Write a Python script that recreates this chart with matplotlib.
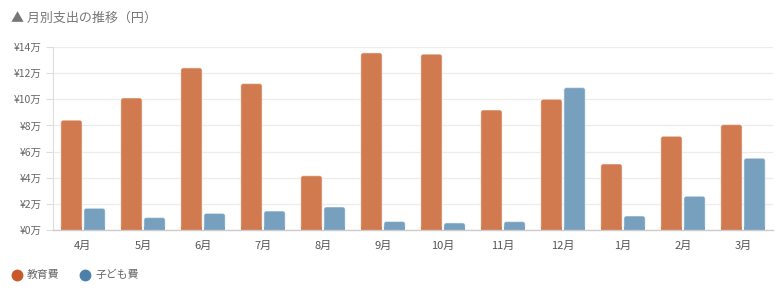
import matplotlib
matplotlib.use("Agg")
import matplotlib.pyplot as plt
import numpy as np
from matplotlib.patches import FancyBboxPatch
from matplotlib.lines import Line2D

plt.rcParams['font.family'] = ['Noto Sans CJK JP', 'DejaVu Sans']

months = ["4月", "5月", "6月", "7月", "8月", "9月", "10月", "11月", "12月", "1月", "2月", "3月"]
education = [84000, 101000, 124000, 112000, 41500, 135500, 134500, 91800, 100000, 50500, 71700, 80600]
children = [16600, 9500, 12700, 14500, 17600, 6500, 5400, 6400, 108900, 10700, 25800, 54900]
series_names = ["教育費", "子ども費"]
yticks = [0, 20000, 40000, 60000, 80000, 100000, 120000, 140000]
title = "▲ 月別支出の推移（円）"

edu_color = "#C8592A"
child_color = "#4A80A9"
edu_bar = "#D17A4F"
child_bar = "#77A0BE"

W, H = 779, 292
fig = plt.figure(figsize=(W / 100, H / 100), dpi=100)
ax = fig.add_axes([53 / W, 1 - 230 / H, 720 / W, 183 / H])

x = np.arange(len(months))
bw = 0.355
gap = 0.03

ax.set_xlim(-0.5, len(months) - 0.5)
ax.set_ylim(0, 140000)

xpp = len(months) / 720.0
ypp = 140000 / 183.0
r = 2.5 * xpp

def rbar(xc, h, color):
    p = FancyBboxPatch((xc - bw / 2, 0), bw, h,
                       boxstyle=f"round,pad=0,rounding_size={r}",
                       mutation_aspect=ypp / xpp,
                       facecolor=color, edgecolor=(1, 1, 1, 0.45),
                       linewidth=0.8, zorder=3)
    ax.add_patch(p)
    ax.add_patch(plt.Rectangle((xc - bw / 2, 0), bw, min(h, 3 * ypp),
                               facecolor=color, linewidth=0, zorder=3))

for i in range(len(months)):
    rbar(x[i] - bw / 2 - gap / 2, education[i], edu_bar)
    rbar(x[i] + bw / 2 + gap / 2, children[i], child_bar)

ax.set_yticks(yticks)
ax.set_yticklabels([f"¥{v // 10000}万" for v in yticks], fontsize=7.5, color="#666666")
ax.set_xticks(x)
ax.set_xticklabels(months, fontsize=8, color="#555555")
ax.tick_params(axis='x', length=0, pad=8)
ax.tick_params(axis='y', length=5, color="#dddddd", pad=3)
ax.grid(axis='y', color="#ececec", linewidth=0.9, zorder=0)
ax.set_axisbelow(True)
for s in ["top", "right"]:
    ax.spines[s].set_visible(False)
ax.spines["left"].set_color("#dddddd")
ax.spines["bottom"].set_color("#cccccc")
ax.spines["bottom"].set_linewidth(1.0)
ax.spines["bottom"].set_zorder(4)

fig.text(11 / W, 1 - 18 / H, title, fontsize=9.4, color="#777777", va="center", ha="left")

for (lx, name, c) in [(17, series_names[0], edu_color), (85, series_names[1], child_color)]:
    fig.add_artist(Line2D([lx / W], [1 - 275 / H], marker="o", markersize=7.5,
                          color=c, linestyle="none"))
    fig.text((lx + 10) / W, 1 - 275 / H, name, fontsize=7.8, color="#666666",
             va="center", ha="left")

fig.savefig("out.png", dpi=100)
